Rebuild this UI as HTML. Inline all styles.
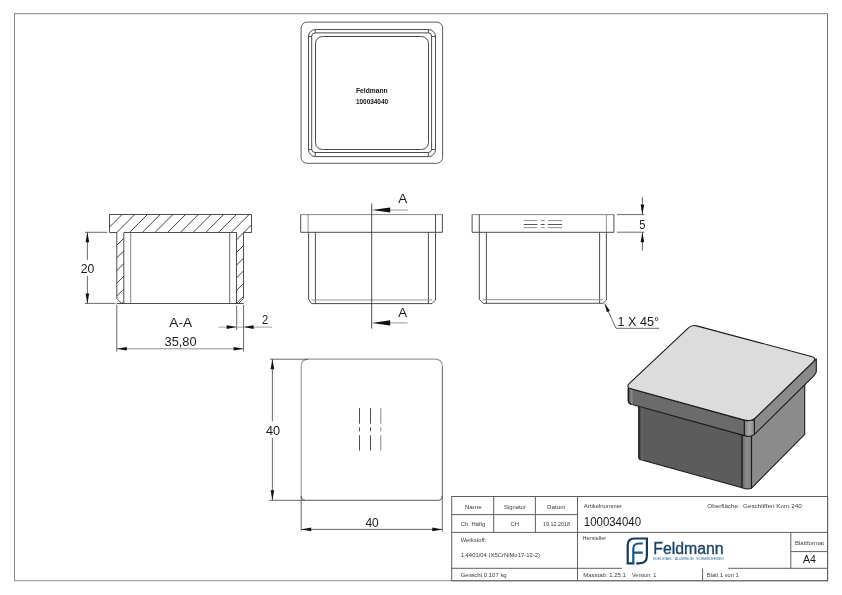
<!DOCTYPE html>
<html><head><meta charset="utf-8">
<style>
html,body{margin:0;padding:0;background:#fff;}
svg{display:block;will-change:transform;}
text{font-family:"Liberation Sans",sans-serif;}
</style></head>
<body>
<svg width="842" height="595" viewBox="0 0 842 595">
<defs>
<clipPath id="sec">
<path d="M109.5 214.5 H251.5 V232.5 H243.5 V298.5 L238.5 303.5 H236.5 V232.5 H123.8 V303.5 H121.5 L116.8 298.5 V232.5 H109.5 Z"/>
</clipPath>
</defs>
<rect x="0" y="0" width="842" height="595" fill="#fff"/>
<!-- page border -->
<g fill="none">
<path d="M14 13.7 H828" stroke="#9c9c9c" stroke-width="1.3"/>
<path d="M14 580.7 H828" stroke="#a4a4a4" stroke-width="1.3"/>
<path d="M14.5 13 V581" stroke="#888" stroke-width="1"/>
<path d="M827.5 13 V581" stroke="#747474" stroke-width="1"/>
</g>

<g fill="none" stroke="#3a3a3a" stroke-width="0.9">
<!-- top view -->
<rect x="301.1" y="22.1" width="141.5" height="141.2" rx="6" stroke="#4a4a4a"/>
<rect x="308.5" y="29.5" width="127" height="127.1" rx="7"/>
<rect x="311.7" y="32.9" width="119.9" height="119.6" rx="3.3"/>
<rect x="315.5" y="36.5" width="113" height="113" rx="7" stroke="#333"/>
<path d="M315.2 29.5 V32.9 M308.5 36.5 H311.7 M428.3 29.5 V32.9 M431.6 36.5 H435.5 M431.6 149.5 H435.5 M428.3 152.5 V156.6 M308.5 149.5 H311.7 M315.2 152.5 V156.6"/>
</g>
<g font-weight="bold" font-size="6.4" fill="#111">
<text x="356" y="92.7" textLength="31.7" lengthAdjust="spacingAndGlyphs">Feldmann</text>
<text x="356" y="104.4" font-size="7.1" textLength="32" lengthAdjust="spacingAndGlyphs">100034040</text>
</g>

<!-- section view A-A -->
<g clip-path="url(#sec)" stroke="#2e2e2e" stroke-width="0.9">
<line x1="98.5" y1="200" x2="-21.5" y2="320"/>
<line x1="111.2" y1="200" x2="-8.8" y2="320"/>
<line x1="123.9" y1="200" x2="3.9" y2="320"/>
<line x1="136.6" y1="200" x2="16.6" y2="320"/>
<line x1="149.3" y1="200" x2="29.3" y2="320"/>
<line x1="162.0" y1="200" x2="42.0" y2="320"/>
<line x1="174.7" y1="200" x2="54.7" y2="320"/>
<line x1="187.4" y1="200" x2="67.4" y2="320"/>
<line x1="200.1" y1="200" x2="80.1" y2="320"/>
<line x1="212.8" y1="200" x2="92.8" y2="320"/>
<line x1="225.5" y1="200" x2="105.5" y2="320"/>
<line x1="238.2" y1="200" x2="118.2" y2="320"/>
<line x1="250.9" y1="200" x2="130.9" y2="320"/>
<line x1="263.6" y1="200" x2="143.6" y2="320"/>
<line x1="276.3" y1="200" x2="156.3" y2="320"/>
<line x1="289.0" y1="200" x2="169.0" y2="320"/>
<line x1="301.7" y1="200" x2="181.7" y2="320"/>
<line x1="314.4" y1="200" x2="194.4" y2="320"/>
<line x1="327.1" y1="200" x2="207.1" y2="320"/>
<line x1="339.8" y1="200" x2="219.8" y2="320"/>
<line x1="352.5" y1="200" x2="232.5" y2="320"/>
<line x1="365.2" y1="200" x2="245.2" y2="320"/>
<line x1="377.9" y1="200" x2="257.9" y2="320"/>
<line x1="390.6" y1="200" x2="270.6" y2="320"/>
<line x1="403.3" y1="200" x2="283.3" y2="320"/>
<line x1="416.0" y1="200" x2="296.0" y2="320"/>
<line x1="428.7" y1="200" x2="308.7" y2="320"/>
</g>
<g fill="none" stroke="#3a3a3a" stroke-width="0.9">
<path d="M109.5 214.5 H251.5 V232.5 H243.5 V298.5 L238.5 303.5 H236.5 V232.5 H123.8 V303.5 H121.5 L116.8 298.5 V232.5 H109.5 Z"/>
<line x1="130.7" y1="232.5" x2="130.7" y2="303.5" stroke="#777"/>
<line x1="229.7" y1="232.5" x2="229.7" y2="303.5" stroke="#555"/>
<line x1="116.8" y1="303.5" x2="243.5" y2="303.5"/>
</g>
<!-- dims section -->
<g fill="none" stroke="#444" stroke-width="0.8">
<path d="M85 232.3 H107.5 M85 303.4 H115.5"/>
<path d="M87.4 232.3 V259.8 M87.4 276 V303.4"/>
<path d="M116.8 305 V351.6 M243.6 305 V351.6"/>
<path d="M116.8 348.8 H243.6" stroke="#777"/>
<path d="M236.7 305.5 V330"/>
<path d="M218.6 327.1 H272" stroke="#888"/>
</g>

<!-- front view -->
<g fill="none" stroke="#3a3a3a" stroke-width="0.9">
<path d="M300.7 214.6 H442.4" stroke="#7a7a7a"/>
<path d="M300.7 214.6 V232.3 H442.4 V214.6"/>
<line x1="308.1" y1="214.6" x2="308.1" y2="232.3" stroke="#888"/>
<line x1="435.5" y1="214.6" x2="435.5" y2="232.3"/>
<path d="M308.6 232.3 V299.3 L311.6 303.6 H432 L435.5 300 V232.3"/>
<path d="M315.4 232.3 V303.6 M428.4 232.3 V303.6"/>
<path d="M311.6 300 H432" stroke="#888"/>
<path d="M371.7 203.6 V328.6"/>
<path d="M390 210 H408 M390 322.9 H407.6" stroke="#8a8a8a"/>
</g>

<!-- side view -->
<g fill="none" stroke="#3a3a3a" stroke-width="0.9">
<path d="M472.1 214.6 H613.9" stroke="#7a7a7a"/>
<path d="M472.1 214.6 V232.3 H613.9 V214.6"/>
<line x1="479.3" y1="214.5" x2="479.3" y2="232.3"/>
<line x1="606.4" y1="214.5" x2="606.4" y2="232.3" stroke="#888"/>
<path d="M479.3 232.3 V299.3 L483.1 303.3 H603 L606.4 300 V232.3"/>
<path d="M486.4 232.3 V303.3 M599.6 232.3 V303.3"/>
<path d="M483.1 299.7 H603" stroke="#888"/>
<path d="M523.7 220.5 H537.3 M540.8 220.5 H544.7 M547.8 220.5 H562 M523.7 227.6 H537.3 M540.8 227.6 H544.7 M547.8 227.6 H562" stroke="#888"/>
<path d="M523.7 224.5 H537.3 M540.8 224.5 H544.7 M547.8 224.5 H562" stroke="#444"/>
</g>
<g fill="none" stroke="#444" stroke-width="0.8">
<path d="M617 214.6 H644.3 M617 232.2 H644.3"/>
<path d="M642.4 197.1 V214.6 M642.4 232.2 V250.7"/>
<path d="M604.6 303.4 L616 328.3 H659.1"/>
</g>

<!-- bottom view -->
<g fill="none" stroke="#3a3a3a" stroke-width="0.9">
<path d="M442.3 366.4 Q442.3 359.1 435 359.1 H308.4 Q301.2 359.1 301.2 366.4 V496" stroke="#9a9a9a" stroke-width="1.1"/>
<path d="M442.3 366.4 V496 Q442.3 500.3 438 500.3 H305.6 Q301.2 500.3 301.2 496" stroke="#4a4a4a"/>
<path d="M359.5 408.1 V423.7 M359.5 427.3 V431.3 M359.5 435.3 V450.5 M370.5 408.1 V423.7 M370.5 427.3 V431.3 M370.5 435.3 V450.5"/>
<path d="M380.8 408.1 V423.7 M380.8 427.3 V431.3 M380.8 435.3 V450.5" stroke="#777"/>
</g>
<g fill="none" stroke="#444" stroke-width="0.8">
<path d="M270 359.2 H308 M269.3 500.3 H305"/>
<path d="M272.4 359.2 V421.4 M272.4 437.9 V500.3"/>
<path d="M301.2 496 V530.7 M442.3 496 V531.6"/>
<path d="M301.2 529.4 H442.3"/>
</g>

<path d="M87.40 232.30 L89.20 242.30 L85.60 242.30 Z" fill="#111" stroke="none"/>
<path d="M87.40 303.40 L85.60 293.40 L89.20 293.40 Z" fill="#111" stroke="none"/>
<path d="M116.80 348.80 L126.80 347.00 L126.80 350.60 Z" fill="#111" stroke="none"/>
<path d="M243.60 348.80 L233.60 350.60 L233.60 347.00 Z" fill="#111" stroke="none"/>
<path d="M236.70 327.10 L226.70 328.90 L226.70 325.30 Z" fill="#111" stroke="none"/>
<path d="M243.60 327.10 L253.60 325.30 L253.60 328.90 Z" fill="#111" stroke="none"/>
<path d="M371.70 210.00 L390.20 207.40 L390.20 212.60 Z" fill="#111" stroke="none"/>
<path d="M371.70 322.90 L390.20 320.30 L390.20 325.50 Z" fill="#111" stroke="none"/>
<path d="M642.40 214.60 L640.60 204.60 L644.20 204.60 Z" fill="#111" stroke="none"/>
<path d="M642.40 232.20 L644.20 242.20 L640.60 242.20 Z" fill="#111" stroke="none"/>
<path d="M604.60 303.40 L609.92 310.86 L606.83 312.28 Z" fill="#111" stroke="none"/>
<path d="M272.40 359.20 L274.20 369.20 L270.60 369.20 Z" fill="#111" stroke="none"/>
<path d="M272.40 500.30 L270.60 490.30 L274.20 490.30 Z" fill="#111" stroke="none"/>
<path d="M301.20 529.40 L311.20 527.60 L311.20 531.20 Z" fill="#111" stroke="none"/>
<path d="M442.30 529.40 L432.30 531.20 L432.30 527.60 Z" fill="#111" stroke="none"/>

<!-- 3D view -->
<path d="M638.9 397.53 L742.1 431.62 V487.73 L640.9 459.80 Q638.9 459.20 638.9 457.20 Z" fill="#5c5c5c" stroke="#1c1c1c" stroke-width="1.1" stroke-linejoin="round"/>
<path d="M751.5 430.40 L804.7 368.37 V434.40 L751.5 488.13 Z" fill="#8b8b8b" stroke="#1c1c1c" stroke-width="1.1" stroke-linejoin="round"/>
<path d="M742.1 429.62 H751.5 V488.13 Q747.80 489.93 742.1 487.73 Z" fill="url(#gbf)" stroke="#1c1c1c" stroke-width="1.1" stroke-linejoin="round"/>
<path d="M628.3 388.03 L744.4 420.12 V435.62 L631.3 404.33 Q628.3 403.53 628.3 400.53 Z" fill="#6b6b6b" stroke="#1c1c1c" stroke-width="1.1" stroke-linejoin="round"/>
<path d="M754.4 418.90 L816.3 358.87 V371.37 Q816.3 373.37 814.3 375.37 L754.4 434.40 Z" fill="#8a8a8a" stroke="#1c1c1c" stroke-width="1.1" stroke-linejoin="round"/>
<path d="M744.4 420.12 H754.4 V434.40 Q749.40 437.82 744.4 435.62 Z" fill="url(#gcf)" stroke="#1c1c1c" stroke-width="1.1" stroke-linejoin="round"/>
<defs><linearGradient id="gcl" x1="0" x2="1" y1="0" y2="0"><stop offset="0" stop-color="#4a4a4a"/><stop offset="0.6" stop-color="#8a8a8a"/><stop offset="1" stop-color="#7a7a7a"/></linearGradient><linearGradient id="gbl" x1="0" x2="1" y1="0" y2="0"><stop offset="0" stop-color="#454545"/><stop offset="1" stop-color="#6c6c6c"/></linearGradient><linearGradient id="gcf" x1="0" x2="1" y1="0" y2="0"><stop offset="0" stop-color="#808080"/><stop offset="0.5" stop-color="#a8a8a8"/><stop offset="1" stop-color="#8a8a8a"/></linearGradient><linearGradient id="gbf" x1="0" x2="1" y1="0" y2="0"><stop offset="0" stop-color="#6a6a6a"/><stop offset="0.5" stop-color="#8e8e8e"/><stop offset="1" stop-color="#7e7e7e"/></linearGradient></defs>
<path d="M628.8 388.53 L632.8 389.63 V404.93 L631.3 404.03 Q628.8 402.53 628.8 400.53 Z" fill="url(#gcl)" stroke="none"/>
<path d="M628.3 388.03 V400.53 Q628.3 403.53 631.3 404.33" fill="none" stroke="#1c1c1c" stroke-width="1.1" stroke-linejoin="round"/>
<path d="M639.4 406.96 L642.9 407.96 V460.40 L640.9 459.50 Q639.4 458.70 639.4 457.20 Z" fill="url(#gbl)" stroke="none"/>
<path d="M638.9 406.46 V457.20 Q638.9 459.20 640.9 459.80" fill="none" stroke="#1c1c1c" stroke-width="1.1" stroke-linejoin="round"/>
<path d="M696.63 325.89 L811.40 356.46 Q817.20 358.00 812.89 362.18 L756.23 417.13 Q751.20 422.00 744.45 420.14 L631.08 388.80 Q625.30 387.20 629.67 383.09 L688.16 328.03 Q691.80 324.60 696.63 325.89 Z" fill="#dcdcdc" stroke="#1c1c1c" stroke-width="1.1" stroke-linejoin="round"/>
<!-- title block -->
<g fill="none" stroke="#606060" stroke-width="1">
<rect x="451.7" y="496.5" width="376" height="84.3"/>
<path d="M451.7 514.6 H577.5 M451.7 532.4 H827.7 M451.7 568.3 H622 M728.3 568.3 H827.7 M790.8 551.6 H827.7"/>
<path d="M493.7 496.5 V532.4 M535.4 496.5 V532.4 M577.5 496.5 V580.8 M702.6 568.3 V580.8 M790.8 532.4 V568.3"/>
</g>
<g font-size="6.2" fill="#3a3a3a">
<text x="464.8" y="508.7" textLength="16.9" lengthAdjust="spacingAndGlyphs">Name</text>
<text x="504" y="508.7" textLength="21.7" lengthAdjust="spacingAndGlyphs">Signatur</text>
<text x="547" y="508.7" textLength="18.5" lengthAdjust="spacingAndGlyphs">Datum</text>
<text x="460.8" y="525.9" textLength="24.4" lengthAdjust="spacingAndGlyphs">Ch. Häfig</text>
<text x="510.5" y="525.9" textLength="8.5" lengthAdjust="spacingAndGlyphs">CH</text>
<text x="543.1" y="525.9" textLength="27.0" lengthAdjust="spacingAndGlyphs">19.12.2018</text>
<text x="460.7" y="542.1" textLength="25.5" lengthAdjust="spacingAndGlyphs">Werkstoff:</text>
<text x="460.7" y="557" textLength="79.2" lengthAdjust="spacingAndGlyphs">1.4401/04 (X5CrNiMo17-12-2)</text>
<text x="460.7" y="576.6" textLength="46.0" lengthAdjust="spacingAndGlyphs">Gewicht 0.107 kg</text>
<text x="583.8" y="508" textLength="38.3" lengthAdjust="spacingAndGlyphs">Artikelnummer</text>
<text x="582.6" y="539.6" textLength="23.5" lengthAdjust="spacingAndGlyphs">Hersteller</text>
<text x="707.3" y="508" textLength="32.5" lengthAdjust="spacingAndGlyphs">Oberfläche:</text>
<text x="743" y="508" textLength="58.9" lengthAdjust="spacingAndGlyphs">Geschliffen Korn 240</text>
<text x="795" y="544.7" textLength="28.9" lengthAdjust="spacingAndGlyphs">Blattformat</text>
<text x="583.3" y="576.7" textLength="42.6" lengthAdjust="spacingAndGlyphs">Masstab: 1.25:1</text>
<text x="632" y="576.7" textLength="24.3" lengthAdjust="spacingAndGlyphs">Version: 1</text>
<text x="706.8" y="576.8" textLength="32.0" lengthAdjust="spacingAndGlyphs">Blatt 1 von 1</text>
</g>
<text x="583.8" y="525.9" font-size="11.9" fill="#1a1a1a" textLength="57.3" lengthAdjust="spacingAndGlyphs">100034040</text>
<text x="802.9" y="562.7" font-size="10.4" fill="#1a1a1a" textLength="13" lengthAdjust="spacingAndGlyphs">A4</text>
<!-- dimension texts -->
<g font-size="13.1" fill="#1a1a1a">
<text x="80.8" y="272.6" textLength="13.6" lengthAdjust="spacingAndGlyphs">20</text>
<text x="164.5" y="345.7" textLength="32.1" lengthAdjust="spacingAndGlyphs">35,80</text>
<text x="265.9" y="434.8" textLength="14.1" lengthAdjust="spacingAndGlyphs">40</text>
<text x="365.4" y="526.8" textLength="13.4" lengthAdjust="spacingAndGlyphs">40</text>
</g>
<g font-size="13" fill="#1a1a1a">
<text x="169.3" y="326.5" font-size="12.2" textLength="22.8" lengthAdjust="spacingAndGlyphs">A-A</text>
<text x="262.1" y="323.6" textLength="6.2" lengthAdjust="spacingAndGlyphs">2</text>
<text x="398.2" y="203.4" font-size="12.2" textLength="9" lengthAdjust="spacingAndGlyphs">A</text>
<text x="398.2" y="316.8" font-size="12.2" textLength="8.8" lengthAdjust="spacingAndGlyphs">A</text>
<text x="639.2" y="228.7" textLength="6.2" lengthAdjust="spacingAndGlyphs">5</text>
<text x="617.6" y="325.8" textLength="41.4" lengthAdjust="spacingAndGlyphs">1 X 45°</text>
</g>
<!-- logo -->
<g fill="none" stroke-linecap="butt" stroke-linejoin="miter">
<path d="M634.4 563.3 H627.7 V545.5 Q627.7 538.5 634.6 538.5 H646.9 V555.8 Q646.9 563.3 639.4 563.3 H636.3" stroke="#163a5a" stroke-width="2.2"/>
<path d="M633.3 563.3 V549 Q633.3 543.5 638.8 543.5 H642.8 M633.3 552.7 H642.8" stroke="#1b5689" stroke-width="2.2"/>
</g>
<text x="653.3" y="554.3" font-size="16" fill="#1d4566" stroke="#1d4566" stroke-width="0.35" textLength="70.3" lengthAdjust="spacingAndGlyphs">Feldmann</text>
<text x="653.3" y="559.8" font-size="2.6" fill="#2a6a9a" textLength="70.3" lengthAdjust="spacingAndGlyphs">EDELSTAHL · ALUMINIUM · SCHMIEDEEISEN</text>
</svg>
</body></html>
